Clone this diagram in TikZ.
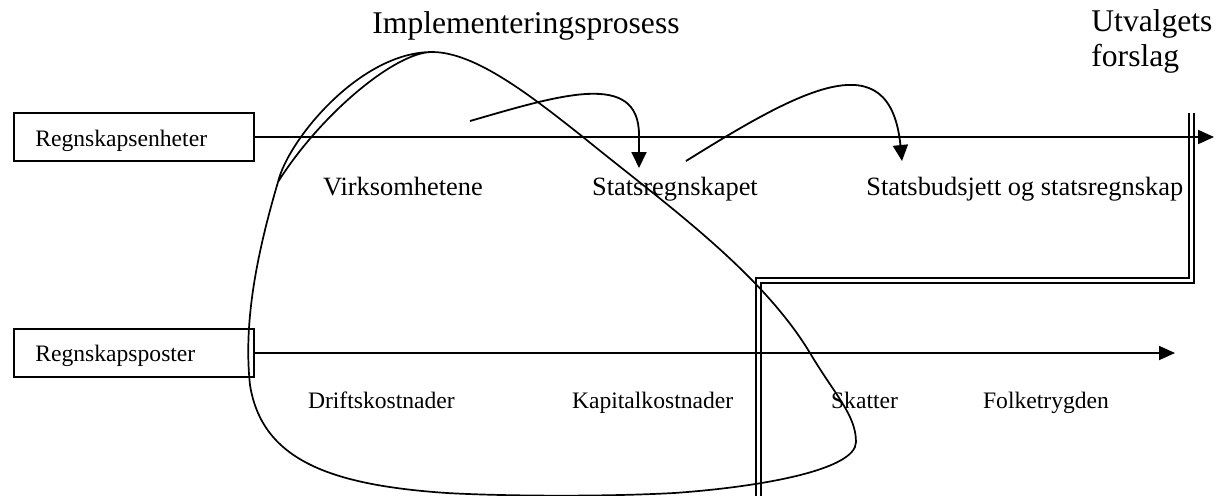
\documentclass[tikz,border=0pt]{standalone}
\usepackage{fontspec}
\setmainfont{Liberation Serif}
\usetikzlibrary{arrows.meta}

\tikzset{
  txt/.style={anchor=base west, inner sep=0pt, font=\fontsize{11.8}{14}\selectfont},
  midtxt/.style={anchor=base west, inner sep=0pt, font=\fontsize{13.2}{15}\selectfont},
  bigtxt/.style={anchor=base west, inner sep=0pt, font=\fontsize{15.8}{18}\selectfont},
  unitbox/.style={draw, line width=1pt, minimum width=120pt, minimum height=24pt, inner sep=0pt},
  axisline/.style={line width=0.9pt, -{Triangle[length=8pt,width=7pt]}},
  flowarrow/.style={line width=0.9pt, -{Triangle[length=8pt,width=7.5pt]}},
  loopline/.style={line width=0.85pt, line join=round},
  divider/.style={double, double distance=1.5pt, line width=1pt, line join=miter},
}

\begin{document}
\begin{tikzpicture}[x=0.5pt, y=-0.5pt]
  \useasboundingbox (0,0) rectangle (1222,495);

  % proposal boundary (double line)
  \coordinate (d1) at (1191,113);
  \coordinate (d2) at (1191,280.5);
  \coordinate (d3) at (758,280.5);
  \coordinate (d4) at (758,497);
  \draw[divider] (d1) -- (d2) -- (d3) -- (d4);

  % the two row headers
  \node[unitbox] (enh)  at (134,137) {};
  \node[unitbox] (post) at (134,353) {};
  \node[txt] (enhtxt)  at (35,146.7) {Regnskapsenheter};
  \node[txt] (posttxt) at (35,361.7) {Regnskapsposter};

  % axes
  \coordinate (enhend)  at (1214,137);
  \coordinate (postend) at (1175,353);
  \draw[axisline] (enh.east) -- (enhend);
  \draw[axisline] (post.east) -- (postend);

  % headings
  \node[bigtxt] (impl) at (372,33.5) {Implementeringsprosess};
  \node[bigtxt] (utv)  at (1091,31.7) {Utvalgets};
  \node[bigtxt] (fors) at (1091,66) {forslag};

  % upper row labels
  \node[midtxt] (virk)  at (322.7,195) {Virksomhetene};
  \node[midtxt] (sregn) at (591.7,195) {Statsregnskapet};
  \node[midtxt] (sbud)  at (866,195) {Statsbudsjett og statsregnskap};

  % lower row labels
  \node[txt] (drift) at (307.6,408) {Driftskostnader};
  \node[txt] (kap)   at (571.6,408) {Kapitalkostnader};
  \node[txt] (skatt) at (830.7,408) {Skatter};
  \node[txt] (folk)  at (982.7,408) {Folketrygden};

  % curved arrows between the stages
  \coordinate (a1s) at (470,121);
  \coordinate (a1e) at (639,168);
  \coordinate (a2s) at (686,161);
  \coordinate (a2e) at (902,161);
  \draw[flowarrow] (a1s) .. controls (560,95) and (639,70) .. (639,135) -- (a1e);
  \draw[flowarrow] (a2s) .. controls (800,90) and (890,40) .. (a2e);

  % implementation process outline
  \coordinate (cusp) at (278,182);
  \coordinate (peak) at (432,52);
  \draw[loopline] (cusp)
    .. controls (320,115) and (395,52) .. (peak)
    .. controls (475,52) and (530,95) .. (583,137)
    .. controls (660,200) and (760,270) .. (810,353)
    .. controls (835,395) and (856,415) .. (856,442)
    .. controls (856,470) and (760,487) .. (674,493)
    .. controls (600,497) and (500,496) .. (447,493)
    .. controls (330,485) and (262,460) .. (250,385)
    .. controls (243,320) and (258,250) .. (cusp)
    .. controls (288,140) and (360,52) .. (peak);
\end{tikzpicture}
\end{document}
